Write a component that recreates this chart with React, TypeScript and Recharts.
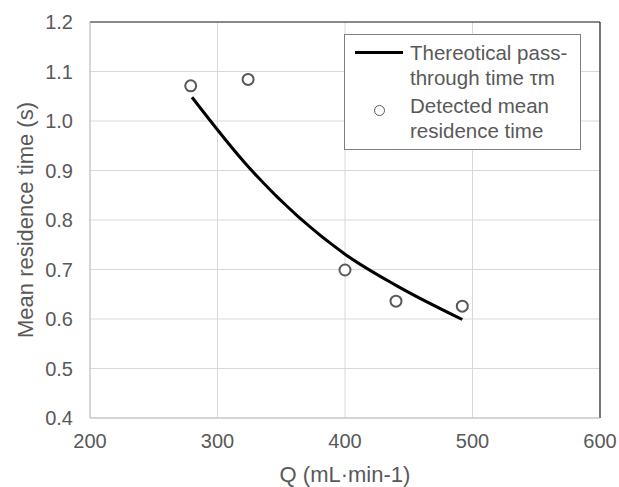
import {
  ComposedChart,
  Line,
  Scatter,
  XAxis,
  YAxis,
  CartesianGrid,
  ReferenceLine,
  Label,
} from "recharts";

// flow rate Q (mL/min) and times (s)
const theoryQ = [280, 324, 400, 440, 492];
const theoryTime = [1.048, 0.908, 0.731, 0.668, 0.599];

const detectedQ = [279, 324, 400, 440, 492];
const detectedTime = [1.071, 1.084, 0.699, 0.636, 0.626];

const xTicks = [200, 300, 400, 500, 600];
const yTicks = [0.4, 0.5, 0.6, 0.7, 0.8, 0.9, 1.0, 1.1, 1.2];

const theoryData = theoryQ.map((q, i) => ({ q, t: theoryTime[i] }));
const detectedData = detectedQ.map((q, i) => ({ q, t: detectedTime[i] }));

const textColor = "#595959";
const font = "'Liberation Sans', Arial, sans-serif";

function LegendBox() {
  return (
    <div
      style={{
        position: "absolute",
        left: 344,
        top: 34,
        width: 237,
        height: 116,
        border: "1px solid #7f7f7f",
        background: "#fff",
        fontFamily: font,
        fontSize: 20.5,
        color: textColor,
        boxSizing: "border-box",
        lineHeight: "25px",
      }}
    >
      <div style={{ position: "absolute", left: 10, top: 16, width: 48, height: 3, background: "#000" }} />
      <div style={{ position: "absolute", left: 65, top: 5, whiteSpace: "nowrap" }}>
        Thereotical pass-
        <br />
        through time τm
      </div>
      <div
        style={{
          position: "absolute",
          left: 29,
          top: 70,
          width: 11,
          height: 11,
          boxSizing: "border-box",
          borderRadius: "50%",
          border: "1.5px solid #595959",
        }}
      />
      <div style={{ position: "absolute", left: 65, top: 58, whiteSpace: "nowrap" }}>
        Detected mean
        <br />
        residence time
      </div>
    </div>
  );
}

export default function App() {
  return (
    <div style={{ position: "absolute", left: 0, top: 0, width: 619, height: 487, background: "#fff" }}>
      <ComposedChart
        width={619}
        height={487}
        margin={{ top: 22, right: 19, bottom: 0, left: 0 }}
      >
        <CartesianGrid stroke="#d9d9d9" strokeWidth={1} />
        <XAxis
          type="number"
          dataKey="q"
          domain={[200, 600]}
          ticks={xTicks}
          allowDataOverflow
          stroke="#bfbfbf"
          tickSize={0}
          tickMargin={16}
          tick={{ fill: textColor, fontSize: 20, fontFamily: font }}
          height={69}
        >
          <Label
            value="Q (mL·min-1)"
            position="insideBottom"
            offset={5}
            style={{ fill: textColor, fontSize: 22, fontFamily: font }}
          />
        </XAxis>
        <YAxis
          type="number"
          dataKey="t"
          domain={[0.4, 1.2]}
          ticks={yTicks}
          allowDataOverflow
          width={90}
          stroke="#bfbfbf"
          tickSize={0}
          tickMargin={17}
          tickFormatter={(v: number) => v.toFixed(1)}
          tick={{ fill: textColor, fontSize: 20, fontFamily: font }}
        >
          <Label
            value="Mean residence time (s)"
            angle={-90}
            position="insideLeft"
            offset={25}
            style={{ fill: textColor, fontSize: 22, fontFamily: font, textAnchor: "middle" }}
          />
        </YAxis>
        <ReferenceLine y={1.2} stroke="#262626" strokeWidth={1.2} />
        <ReferenceLine x={600} stroke="#262626" strokeWidth={1.2} />
        <Line
          data={theoryData}
          dataKey="t"
          type="monotone"
          stroke="#000"
          strokeWidth={3}
          dot={false}
          isAnimationActive={false}
          name="Thereotical pass-through time τm"
        />
        <Scatter
          data={detectedData}
          dataKey="t"
          fill="#fff"
          stroke="#595959"
          strokeWidth={2}
          shape={(p: any) => (
            <circle cx={p.cx} cy={p.cy} r={5.5} fill="#fff" stroke="#595959" strokeWidth={2} />
          )}
          isAnimationActive={false}
          name="Detected mean residence time"
        />
      </ComposedChart>
      <LegendBox />
    </div>
  );
}
